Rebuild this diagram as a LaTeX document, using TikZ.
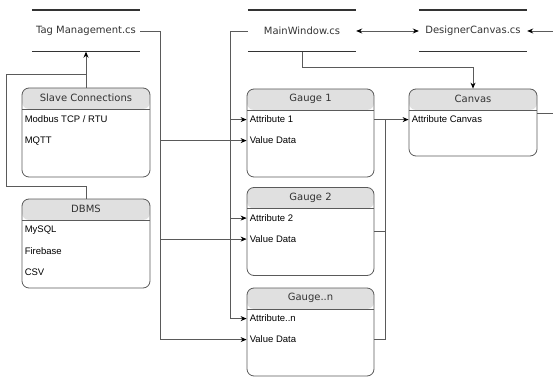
\documentclass[tikz,border=0pt]{standalone}
\usepackage{fontspec}
\setmainfont{Liberation Sans}
\newfontfamily\headfont{DejaVu Sans}
\usetikzlibrary{arrows.meta}

\definecolor{linegray}{HTML}{5A5A5A}
\definecolor{headgray}{HTML}{E0E0E0}

\tikzset{
    classbox/.style={draw=linegray, line width=0.8pt, rounded corners=7pt,
        minimum width=128pt, inner sep=0pt,
        path picture={
            \fill[headgray] (path picture bounding box.north west) rectangle
                ([yshift=-21pt]path picture bounding box.north east);
            \draw[linegray, line width=0.8pt] ([yshift=-21pt]path picture bounding box.north west)
                -- ([yshift=-21pt]path picture bounding box.north east);
        }},
    classtitle/.style={font=\headfont\fontsize{10}{12}\selectfont, text=black!80, inner sep=0pt},
    classitem/.style={font=\fontsize{9.5}{11}\selectfont, anchor=west, inner xsep=3pt, inner ysep=0pt},
    srcfile/.style={font=\headfont\fontsize{10}{12}\selectfont, text=black!80,
        minimum width=108pt, minimum height=41pt, inner sep=0pt},
    filebar/.style={draw=black!80, line width=1.6pt},
    wire/.style={draw=linegray, line width=0.8pt},
    arr/.style={wire, -{Stealth[length=6pt, width=5pt, black]}},
    dblarr/.style={wire, {Stealth[length=6pt, width=5pt, black]}-{Stealth[length=6pt, width=5pt, black]}}
}

\begin{document}
\begin{tikzpicture}[x=1pt, y=-1pt]
    \useasboundingbox (0,0) rectangle (553,379);

    % source files
    \node[srcfile] (tag) at (86,31) {Tag Management.cs};
    \node[srcfile] (mw) at (302,31) {MainWindow.cs};
    \node[srcfile] (dc) at (473,31) {DesignerCanvas.cs};
    \foreach \f in {tag,mw,dc} {
        \draw[filebar] (\f.north west) -- (\f.north east);
        \draw[filebar] (\f.south west) -- (\f.south east);
    }

    % data sources
    \node[classbox, minimum height=89pt] (sc) at (86,132.5) {};
    \node[classtitle] (sc-t) at ([yshift=-10.5pt]sc.north) {Slave Connections};
    \node[classitem] (sc-1) at ([yshift=-32pt]sc.north west) {Modbus TCP / RTU};
    \node[classitem] (sc-2) at ([yshift=-53pt]sc.north west) {MQTT};

    \node[classbox, minimum height=89pt] (db) at (86,243.5) {};
    \node[classtitle] (db-t) at ([yshift=-10.5pt]db.north) {DBMS};
    \node[classitem] (db-1) at ([yshift=-32pt]db.north west) {MySQL};
    \node[classitem] (db-2) at ([yshift=-53pt]db.north west) {Firebase};
    \node[classitem] (db-3) at ([yshift=-74pt]db.north west) {CSV};

    % gauges
    \foreach \g/\ttl/\att/\y in {g1/{Gauge 1}/{Attribute 1}/133,
                                 g2/{Gauge 2}/{Attribute 2}/231.5,
                                 gn/{Gauge..n}/{Attribute..n}/332} {
        \node[classbox, minimum width=127pt, minimum height=88pt] (\g) at (310.5,\y) {};
        \node[classtitle] (\g-t) at ([yshift=-10.5pt]\g.north) {\ttl};
        \node[classitem] (\g-a) at ([yshift=-31pt]\g.north west) {\att};
        \node[classitem] (\g-v) at ([yshift=-52pt]\g.north west) {Value Data};
    }

    % canvas
    \node[classbox, minimum height=67pt] (cv) at (473,122.5) {};
    \node[classtitle] (cv-t) at ([yshift=-10.5pt]cv.north) {Canvas};
    \node[classitem] (cv-a) at ([yshift=-31pt]cv.north west) {Attribute Canvas};

    \coordinate (tagbus) at ([xshift=20pt]tag.east);
    \coordinate (mwbus) at ([xshift=-17pt]mw.west);
    \coordinate (join) at ([yshift=13pt]sc.north);
    \coordinate (gbus) at ([xshift=11pt]g1.east |- g1-a);
    \coordinate (dcin) at ([xshift=26pt]dc.east);
    \coordinate (cvout) at ([xshift=16pt,yshift=-25pt]cv.north east);

    % connectors
    \draw[arr] (sc.north) -- (tag.south);
    \draw[wire] (db.north) -- ++(0,-12) -| ([xshift=-15pt]sc.west |- join) -- (join);

    \draw[arr] (tag.east) -- (tagbus) |- (gn-v.west);
    \draw[arr] (tagbus |- g1-v) -- (g1-v.west);
    \draw[arr] (tagbus |- g2-v) -- (g2-v.west);

    \draw[arr] (mw.west) -- (mwbus) |- (gn-a.west);
    \draw[arr] (mwbus |- g1-a) -- (g1-a.west);
    \draw[arr] (mwbus |- g2-a) -- (g2-a.west);

    \draw[dblarr] (mw.east) -- (dc.west);
    \draw[arr] (dcin) -- (dc.east);
    \draw[arr] (mw.south) -- ++(0,16) -| (cv.north);

    \draw[arr] (g1.east |- g1-a) -- (cv-a.west);
    \draw[wire] (gbus) |- (gn.east |- gn-v);
    \draw[wire] (g2.east) -- (g2.east -| gbus);
    \draw[wire] ([yshift=-25pt]cv.north east) -- (cvout);
\end{tikzpicture}
\end{document}
